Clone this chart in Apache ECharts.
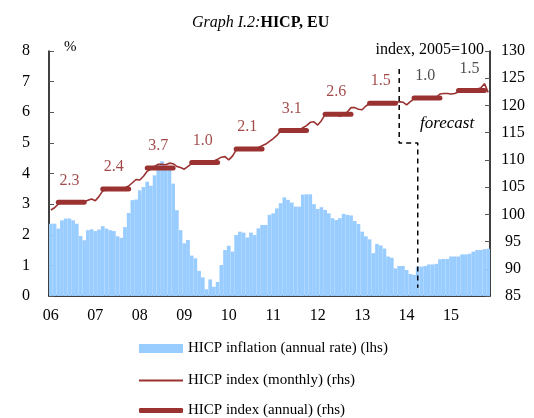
<!DOCTYPE html>
<html>
<head>
<meta charset="utf-8">
<script src="https://cdn.jsdelivr.net/npm/echarts@6/dist/echarts.min.js"></script>
<style>
html, body { margin: 0; padding: 0; background: #fff; }
#chart { width: 534px; height: 418px; }
</style>
</head>
<body>
<div id="chart"></div>
<script>
// monthly, Jan 2006 - Nov 2015
const yearLabels = ['06', '07', '08', '09', '10', '11', '12', '13', '14', '15']

// HICP inflation, annual rate, % (lhs)
const inflation = [
  2.36, 2.36, 2.2, 2.47, 2.53, 2.53, 2.47, 2.36, 1.96, 1.82, 2.15, 2.18,
  2.12, 2.17, 2.28, 2.2, 2.15, 2.12, 1.95, 1.9, 2.25, 2.71, 3.13, 3.15,
  3.45, 3.56, 3.73, 3.6, 3.94, 4.27, 4.4, 4.22, 4.22, 3.67, 2.8, 2.15,
  1.72, 1.83, 1.32, 1.23, 0.82, 0.61, 0.22, 0.54, 0.3, 0.46, 1.01, 1.5,
  1.64, 1.45, 1.99, 2.1, 2.07, 1.91, 2.07, 1.99, 2.21, 2.32, 2.32, 2.65,
  2.7, 2.86, 3.03, 3.22, 3.14, 3.05, 2.92, 2.92, 3.31, 3.32, 3.32, 3.0,
  2.84, 2.9, 2.81, 2.7, 2.54, 2.48, 2.54, 2.68, 2.65, 2.63, 2.45, 2.35,
  2.1, 1.95, 1.85, 1.4, 1.7, 1.65, 1.55, 1.29, 1.25, 0.9, 0.98, 0.98,
  0.85, 0.72, 0.69, 0.96, 0.96, 0.98, 1.03, 1.03, 1.05, 1.2, 1.21, 1.21,
  1.29, 1.29, 1.29, 1.36, 1.36, 1.38, 1.45, 1.5, 1.5, 1.53, 1.54
]

// HICP index, monthly, 2005=100 (rhs)
const indexMonthly = [
  100.8, 101.2, 101.9, 102.1, 102.3, 102.4, 102.2, 102.4, 102.4, 102.3, 102.6, 102.8,
  102.5, 103.3, 104.3, 104.5, 104.6, 104.7, 104.4, 104.6, 104.9, 105.2, 105.8, 106.4,
  106.3, 107.0, 107.9, 108.3, 108.8, 109.2, 109.2, 109.1, 109.4, 109.3, 108.8, 108.6,
  108.3, 108.8, 109.3, 109.5, 109.6, 109.7, 109.4, 109.6, 109.8, 110.1, 110.5, 110.6,
  110.0, 110.7, 111.8, 112.1, 112.1, 112.1, 111.8, 112.0, 112.3, 112.6, 112.9, 113.4,
  113.9, 114.5, 115.3, 115.6, 115.6, 115.5, 115.2, 115.4, 115.9, 116.3, 116.9, 117.0,
  116.4, 117.2, 118.3, 118.6, 118.5, 118.3, 118.0, 118.4, 118.8, 119.6, 119.6, 119.3,
  119.2, 119.9, 120.3, 120.4, 120.5, 120.5, 120.2, 120.4, 120.6, 120.5, 120.7, 120.6,
  120.1, 120.7, 121.2, 121.3, 121.3, 121.4, 121.2, 121.3, 121.5, 122.1, 122.2, 122.2,
  122.1, 122.2, 122.5, 122.6, 122.7, 122.8, 122.8, 123.0, 123.2, 124.0, 122.4
]

// HICP index, annual average (rhs) and its growth rate labels
const indexAnnual = [102.2, 104.65, 108.5, 109.5, 112.0, 115.4, 118.4, 120.4, 121.35, 122.75]
const annualGrowth = ['2.3', '2.4', '3.7', '1.0', '2.1', '3.1', '2.6', '1.5', '1.0', '1.5']
const firstForecastYear = 8

// forecast separator, [month index, index level]
const forecastMarker = [[94, 126.7], [94, 113.1], [99, 113.1], [99, 86.5]]

const months = []
yearLabels.forEach(y => {
  for (let m = 1; m <= 12; m++) months.push(y + '-' + m)
})
months.length = inflation.length

// thick annual steps, drawn over Mar-Oct of each year
const annualSteps = months.map((_, i) => {
  const m = i % 12
  return m >= 2 && m <= 9 ? indexAnnual[Math.floor(i / 12)] : null
})

const labelPoints = indexAnnual.map((v, y) => ({
  value: [y * 12 + 5, v],
  label: { color: y >= firstForecastYear ? '#222' : '#8B1A1A' }
}))

const serif = 'Liberation Serif'
const red = '#9A3232'
const axisText = { color: '#000', fontFamily: serif, fontSize: 16 }
const legendText = { color: '#000', fontFamily: serif, fontSize: 15 }

function legendRow (top, name, icon, height) {
  return {
    orient: 'vertical',
    left: 134,
    top: top,
    itemWidth: 44,
    itemHeight: height,
    textStyle: legendText,
    data: [{ name: name, icon: icon }]
  }
}

const chart = echarts.init(document.getElementById('chart'))
chart.setOption({
  animation: false,
  textStyle: { fontFamily: serif },
  title: {
    text: '{i|Graph I.2:}{b|HICP, EU}',
    left: 187,
    top: 10,
    textStyle: {
      fontWeight: 'normal',
      rich: {
        i: { fontFamily: serif, fontSize: 16, fontStyle: 'italic', fontWeight: 'normal', color: '#000' },
        b: { fontFamily: serif, fontSize: 16, fontWeight: 'bold', color: '#000' }
      }
    }
  },
  grid: { left: 49, right: 44, top: 51, bottom: 122, outerBoundsMode: 'none' },
  legend: [
    legendRow(336, 'HICP inflation (annual rate) (lhs)', 'rect', 9),
    legendRow(368, 'HICP index (monthly) (rhs)', 'rect', 2),
    legendRow(398, 'HICP index (annual) (rhs)', 'roundRect', 5)
  ],
  graphic: [
    { type: 'text', left: 64, top: 40, style: { text: '%', fontFamily: serif, fontSize: 15, fill: '#000' } },
    { type: 'text', right: 50, top: 42, style: { text: 'index, 2005=100', fontFamily: serif, fontSize: 16, fill: '#000' } },
    { type: 'text', left: 420, top: 115, style: { text: 'forecast', fontFamily: serif, fontSize: 17, fontStyle: 'italic', fill: '#000' } }
  ],
  xAxis: {
    type: 'category',
    data: months,
    boundaryGap: true,
    axisLine: { lineStyle: { color: '#000', width: 1.5 } },
    axisTick: { inside: true, length: 5, interval: i => i % 12 === 0, lineStyle: { color: '#555' } },
    axisLabel: {
      ...axisText,
      margin: 12,
      interval: i => i % 12 === 0,
      formatter: v => v.split('-')[0]
    },
    splitLine: { show: false }
  },
  yAxis: [
    {
      type: 'value',
      min: 0,
      max: 8,
      interval: 1,
      axisLine: { show: true, lineStyle: { color: '#000', width: 1.5 } },
      axisTick: { show: true, inside: true, length: 5, lineStyle: { color: '#555' } },
      axisLabel: { ...axisText, align: 'center', margin: 23 },
      splitLine: { show: false }
    },
    {
      type: 'value',
      min: 85,
      max: 130,
      interval: 5,
      position: 'right',
      axisLine: { show: true, lineStyle: { color: '#000', width: 1.5 } },
      axisTick: { show: true, inside: true, length: 5, lineStyle: { color: '#555' } },
      axisLabel: { ...axisText, align: 'center', margin: 23 },
      splitLine: { show: false }
    }
  ],
  series: [
    {
      name: 'HICP inflation (annual rate) (lhs)',
      type: 'bar',
      data: inflation,
      barCategoryGap: 0,
      itemStyle: { color: '#99CCFF' }
    },
    {
      name: 'HICP index (monthly) (rhs)',
      type: 'line',
      yAxisIndex: 1,
      data: indexMonthly,
      symbol: 'none',
      lineStyle: { color: red, width: 1.6 },
      itemStyle: { color: red },
      z: 3
    },
    {
      name: 'HICP index (annual) (rhs)',
      type: 'line',
      yAxisIndex: 1,
      data: annualSteps,
      connectNulls: false,
      symbol: 'none',
      lineStyle: { color: red, width: 5, cap: 'round' },
      itemStyle: { color: red },
      z: 4
    },
    {
      name: 'growth',
      type: 'scatter',
      yAxisIndex: 1,
      data: labelPoints,
      symbolSize: 0,
      silent: true,
      label: {
        show: true,
        position: 'inside',
        offset: [0, -22],
        fontFamily: serif,
        fontSize: 16,
        formatter: p => annualGrowth[p.dataIndex]
      },
      z: 5
    },
    {
      name: 'forecast',
      type: 'line',
      yAxisIndex: 1,
      data: forecastMarker,
      symbol: 'none',
      silent: true,
      lineStyle: { color: '#000', width: 1.5, type: [5, 4] },
      z: 6
    }
  ]
})
</script>
</body>
</html>
